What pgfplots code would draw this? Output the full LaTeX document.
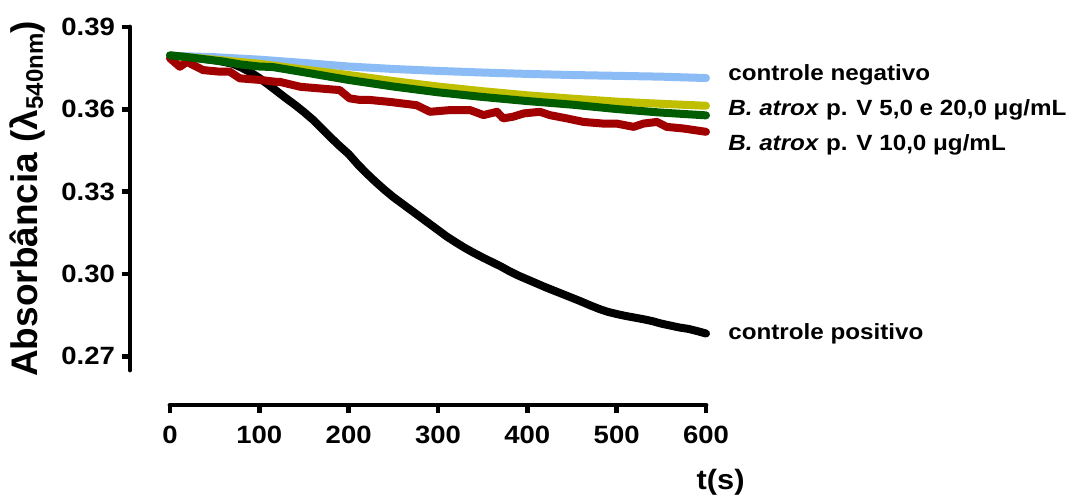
\documentclass[border=0pt]{standalone}
\usepackage{fontspec}
\setmainfont{Liberation Sans}[FakeStretch=1.1]
\newfontfamily\ylabfont{Liberation Sans}
\usepackage{pgfplots}
\pgfplotsset{compat=1.18}
\definecolor{cblue}{HTML}{8CBCF5}
\definecolor{cyellow}{HTML}{BFBF00}
\definecolor{cgreen}{HTML}{005C00}
\definecolor{cred}{HTML}{A00000}
\begin{document}
\begin{tikzpicture}
\path[use as bounding box] (0,0) rectangle (539.5pt,248.5pt);
\begin{axis}[
  at={(85pt,63.5pt)}, anchor=south west,
  width=268pt, height=171.5pt, scale only axis,
  xmin=0, xmax=600, ymin=0.265, ymax=0.39,
  axis x line*=bottom, axis y line*=left,
  axis x line shift=17.5pt, axis y line shift=20pt,
  axis line style={line width=2.4pt, line cap=round},
  xtick={0,100,...,600},
  ytick={0.27,0.30,0.33,0.36,0.39},
  yticklabel style={/pgf/number format/.cd, fixed, fixed zerofill, precision=2},
  xticklabel style={yshift=-3pt},
  /pgf/number format/assume math mode=true,
  tick align=outside, major tick length=4pt,
  tick style={line width=2.4pt, black},
  ticklabel style={font=\fontsize{12.5}{14}\selectfont\bfseries},
  clip=false,
  every axis plot/.append style={line width=4pt, line join=round, line cap=round, mark=none},
]
\addplot[black] coordinates {
(0,0.3795)(10,0.3793)(20,0.3790)(30,0.3787)(40,0.3783)(50,0.3779)(60,0.3773)(70,0.3766)(80,0.3752)(90,0.3735)
(100,0.3714)(110,0.3690)(120,0.3665)(130,0.3640)(140,0.3616)(150,0.3590)(160,0.3562)(170,0.3530)(180,0.3497)(190,0.3466)
(200,0.3437)(210,0.3400)(220,0.3367)(230,0.3336)(240,0.3307)(250,0.3280)(260,0.3256)(270,0.3232)(280,0.3208)(290,0.3184)
(300,0.3160)(310,0.3136)(320,0.3115)(330,0.3095)(340,0.3077)(350,0.3060)(360,0.3044)(370,0.3028)(380,0.3010)(390,0.2994)
(400,0.2980)(410,0.2966)(420,0.2952)(430,0.2939)(440,0.2926)(450,0.2913)(460,0.2900)(470,0.2886)(480,0.2873)(490,0.2862)
(500,0.2854)(510,0.2847)(520,0.2841)(530,0.2835)(540,0.2828)(550,0.2819)(560,0.2812)(570,0.2805)(580,0.2800)(590,0.2792)(600,0.2783)
};
\addplot[cblue] coordinates {
(0,0.3795)(50,0.3790)(100,0.3781)(150,0.3769)(200,0.3756)(250,0.3747)(300,0.3740)(350,0.3734)(400,0.3729)(450,0.3725)(500,0.3722)(550,0.3719)(600,0.3714)
};
\addplot[cyellow] coordinates {
(0,0.3795)(30,0.3787)(60,0.3778)(100,0.3766)(150,0.3745)(200,0.3725)(250,0.3703)(300,0.3683)(350,0.3666)(400,0.3651)(450,0.3639)(500,0.3628)(550,0.3620)(600,0.3613)
};
\addplot[cred] coordinates {
(0,0.3786)(11,0.3755)(19,0.3773)(37,0.3743)(56,0.3737)(67,0.3737)(78,0.3713)(101,0.3707)(119,0.3700)(123,0.3700)(146,0.3682)(168,0.3676)(190,0.3670)
(201,0.3640)(213,0.3634)(224,0.3634)(246,0.3627)(276,0.3615)(291,0.3591)(313,0.3597)(336,0.3597)(351,0.3579)(366,0.3591)(373,0.3567)(384,0.3573)
(396,0.3585)(414,0.3591)(425,0.3579)(444,0.3567)(463,0.3554)(485,0.3548)(500,0.3548)(519,0.3536)(530,0.3548)(545,0.3554)(556,0.3536)(575,0.3530)(600,0.3518)
};
\addplot[cgreen] coordinates {
(0,0.3797)(20,0.3790)(40,0.3782)(60,0.3774)(80,0.3763)(100,0.3756)(115,0.3754)(130,0.3746)(150,0.3735)(200,0.3707)(250,0.3683)(300,0.3662)(350,0.3645)(400,0.3630)(450,0.3617)(500,0.3601)(550,0.3588)(600,0.3578)
};
\node[anchor=west, inner sep=0pt, font=\fontsize{11}{13}\selectfont\bfseries] at (axis cs:624.6,0.3725) {controle negativo};
\node[anchor=west, inner sep=0pt, font=\fontsize{11}{13}\selectfont\bfseries] at (axis cs:624.6,0.3597) {\textit{B. atrox} p. V 5,0 e 20,0 μg/mL};
\node[anchor=west, inner sep=0pt, font=\fontsize{11}{13}\selectfont\bfseries] at (axis cs:624.6,0.3470) {\textit{B. atrox} p. V 10,0 μg/mL};
\node[anchor=west, inner sep=0pt, font=\fontsize{11}{13}\selectfont\bfseries] at (axis cs:624.6,0.2781) {controle positivo};
\node[anchor=east, inner sep=0pt, font=\fontsize{14}{16}\selectfont\bfseries] at (axis cs:643.7,0.2242) {t(s)};
\node[rotate=90, inner sep=0pt, font=\ylabfont\bfseries\fontsize{18.5}{22}\selectfont] at (axis cs:-160,0.3273) {Absorbância (λ\raisebox{-0.3ex}{\fontsize{12}{14}\selectfont 540nm})};
\end{axis}
\end{tikzpicture}
\end{document}
